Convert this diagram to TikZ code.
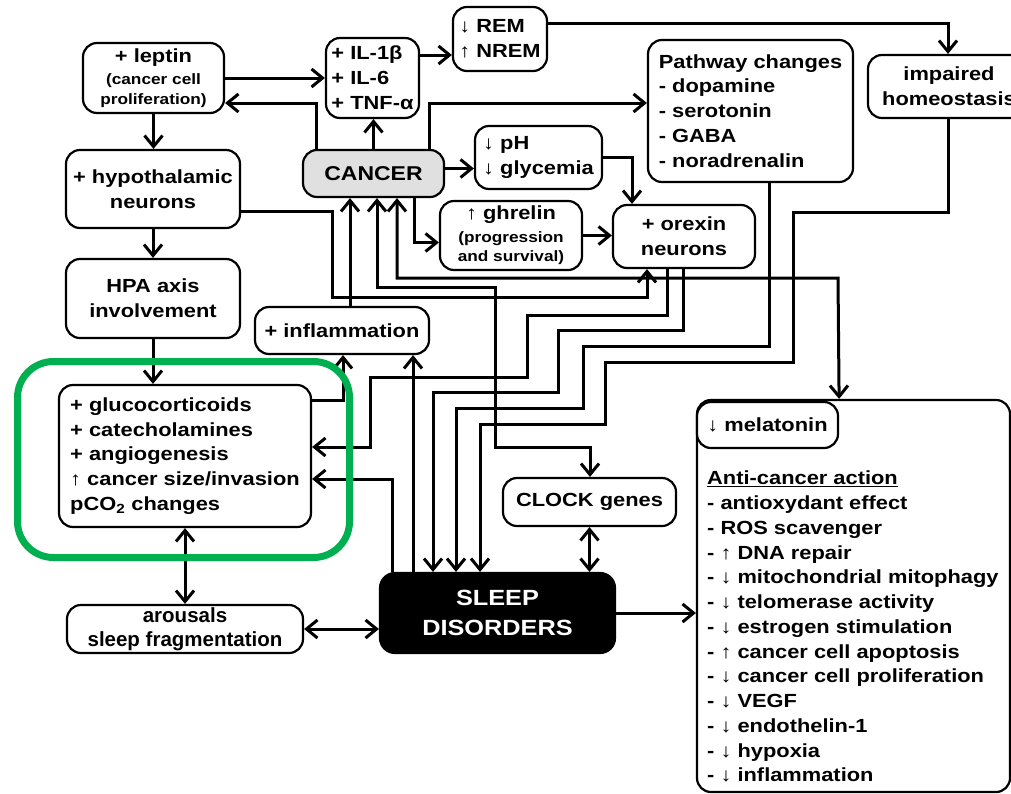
\documentclass[tikz,border=0pt]{standalone}
\usepackage{fontspec}
\setmainfont{Liberation Sans}[FakeStretch=1.15]
\newfontfamily\plainfam{Liberation Sans}
\usetikzlibrary{arrows.meta}
\newcommand{\arrup}{{\mdseries ↑}}
\newcommand{\arrdn}{{\mdseries ↓}}
\newcommand{\mainsz}{\fontsize{19}{24.8}\selectfont}
\newcommand{\subsz}{\fontsize{15}{19.5}\selectfont}
\definecolor{hlgreen}{RGB}{0,176,80}
\definecolor{cancergray}{RGB}{224,224,224}
\begin{document}
\begin{tikzpicture}[x=1pt,y=-1pt,
  box/.style={draw, line width=2.2pt, rounded corners=14pt, fill=white, inner sep=0pt, align=center, font=\bfseries\mainsz},
  lbox/.style={box, align=left},
  >={Straight Barb[length=11pt,width=18pt]},
  conn/.style={line width=3pt},
  arr/.style={conn, ->},
  darr/.style={conn, <->}]
\useasboundingbox (0,0) rectangle (1011,793);
\fill[white] (0,0) rectangle (1011,793);
\clip (0,0) rectangle (1011,793);

% nodes
\node[box, minimum width=141, minimum height=70, font=\bfseries\subsz] (leptin) at (153.5,78) {{\mainsz + leptin}\\[3pt](cancer cell\\proliferation)};
\node[lbox, minimum width=93, minimum height=80] (il) at (372.5,78) {+ IL-1β\\+ IL-6\\+ TNF-α};
\node[lbox, minimum width=94, minimum height=64] (rem) at (500,39) {\arrdn{} REM\\\arrup{} NREM};
\node[lbox, minimum width=205, minimum height=142] (path) at (750.5,111) {Pathway changes\\- dopamine\\- serotonin\\- GABA\\- noradrenalin};
\node[box, minimum width=162, minimum height=63] (homeo) at (949,86.5) {impaired\\homeostasis};
\node[box, minimum width=174, minimum height=78] (hypo) at (153,189) {+ hypothalamic\\neurons};
\node[box, fill=cancergray, minimum width=141, minimum height=47, font=\bfseries\fontsize{20}{24}\selectfont] (cancer) at (373.5,173.5) {CANCER};
\node[lbox, minimum width=127, minimum height=63] (ph) at (538.5,157.5) {\arrdn{} pH\\\arrdn{} glycemia};
\node[box, minimum width=142, minimum height=69, font=\bfseries\subsz] (ghrelin) at (511,235.5) {{\mainsz\arrup{} ghrelin}\\[3pt](progression\\and survival)};
\node[box, minimum width=142, minimum height=63] (orexin) at (684,236.5) {+ orexin\\neurons};
\node[box, minimum width=174, minimum height=79] (hpa) at (153,298.5) {HPA axis\\involvement};
\node[box, minimum width=174, minimum height=47] (infl) at (342,330.5) {+ inflammation};
\node[lbox, minimum width=252, minimum height=142] (gluco) at (185,456) {+ glucocorticoids\\+ catecholamines\\+ angiogenesis\\\arrup{} cancer size/invasion\\pCO\textsubscript{2} changes};
\node[box, minimum width=173, minimum height=48] (clock) at (589.5,502) {CLOCK genes};
\node[box, fill=black, text=white, rounded corners=15pt, minimum width=235, minimum height=80, font=\bfseries\fontsize{22}{30}\selectfont] (sleep) at (497.5,613) {SLEEP\\DISORDERS};
\node[box, minimum width=236, minimum height=48, font=\plainfam\bfseries\fontsize{20.5}{23.5}\selectfont] (arousal) at (185,629) {arousals\\sleep fragmentation};
\node[box, minimum width=313, minimum height=392] (melbig) at (853.5,596) {};
\node[box, minimum width=141, minimum height=46] (mel) at (767.5,425) {\arrdn{} melatonin};
\node[anchor=north west, align=left, inner sep=0pt, font=\bfseries\fontsize{19}{24.75}\selectfont] (anti) at (707,471) {\underline{Anti-cancer action}\\- antioxydant effect\\- ROS scavenger\\- \arrup{} DNA repair\\- \arrdn{} mitochondrial mitophagy\\- \arrdn{} telomerase activity\\- \arrdn{} estrogen stimulation\\- \arrup{} cancer cell apoptosis\\- \arrdn{} cancer cell proliferation\\- \arrdn{} VEGF\\- \arrdn{} endothelin-1\\- \arrdn{} hypoxia\\- \arrdn{} inflammation};

% connectors
\draw[arr] (leptin.east) -- (il.west);
\draw[arr] ([xshift=15pt]cancer.north west) |- ([yshift=-25pt]leptin.east);
\draw[arr] (leptin.south) -- (leptin.south |- hypo.north);
\draw[arr] (hypo.south) -- (hypo.south |- hpa.north);
\draw[arr] (hpa.south) -- (hpa.south |- gluco.north);
\draw[arr] (cancer.north) -- (cancer.north |- il.south);
\draw[arr] ([yshift=23pt]il.east) -- ([yshift=-16pt]rem.west);
\draw[arr] ([yshift=16pt]rem.east) -| ([xshift=-1pt]homeo.north);
\draw[arr] ([xshift=-16pt]cancer.north east) |- ([yshift=8pt]path.west);
\draw[arr] ([yshift=5pt]cancer.east) -- ([yshift=-11pt]ph.west);
\draw[arr] (ph.east) -| ([xshift=-52pt]orexin.north);
\draw[arr] ([xshift=-31pt]cancer.south east) |- ([yshift=-7pt]ghrelin.west);
\draw[arr] (ghrelin.east) -- ([yshift=1pt]orexin.west);
\draw[arr] ([yshift=-22pt]hypo.east) -| (332,297) -| ([xshift=-37pt]orexin.south);
\draw[arr] ([xshift=8pt]infl.north) -- ([xshift=-23.5pt]cancer.south);
\draw[darr] ([xshift=3.5pt]cancer.south) |- (495,287) |- (590,447) -- ([xshift=0.5pt]clock.north);
\draw[darr] ([xshift=23.5pt]cancer.south) |- (838,278) -- (melbig.north -| mel.east);
\draw[arr] ([xshift=-17pt]orexin.south) |- (527,315) |- (370,377) |- ([yshift=9pt]gluco.east);
\draw[arr] ([xshift=-1pt]orexin.south) |- (558,330) |- (433,392) -- ([xshift=-64.5pt]sleep.north);
\draw[arr] ([xshift=18.5pt]path.south) |- (583,346) |- (456,408) -- ([xshift=-41.5pt]sleep.north);
\draw[arr] ([xshift=-1pt]homeo.south) |- (793,212) |- (605,362) |- (480,424) -- ([xshift=-17.5pt]sleep.north);
\draw[arr] ([yshift=56pt]gluco.east) -| ([xshift=1pt]infl.south);
\draw[arr] ([xshift=-84.5pt]sleep.north) -- ([xshift=71pt]infl.south);
\draw[arr] ([xshift=-105.5pt]sleep.north) |- ([yshift=-23pt]gluco.east);
\draw[darr] (clock.south) -- (clock.south |- sleep.north);
\draw[arr] (sleep.east) -- (sleep.east -| melbig.west);
\draw[darr] (arousal.east) -- (arousal.east -| sleep.west);
\draw[darr] (gluco.south) -- (arousal.north);

% highlight frame
\draw[hlgreen, line width=7pt, rounded corners=36pt] (17.5,361.5) rectangle (349.5,557.5);
\end{tikzpicture}
\end{document}
